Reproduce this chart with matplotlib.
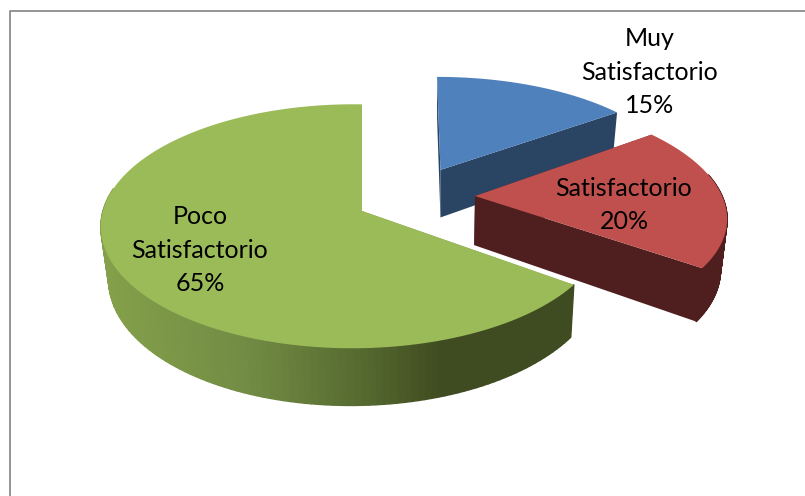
import numpy as np
import matplotlib
matplotlib.use("Agg")
import matplotlib.pyplot as plt
from matplotlib.collections import PolyCollection
from matplotlib.colors import LinearSegmentedColormap

categories = ["Muy\nSatisfactorio", "Satisfactorio", "Poco\nSatisfactorio"]
values = [15, 20, 65]
top_colors = ["#4f81bd", "#c0504d", "#9bbb59"]
side_colors = ["#2a4464", "#4f1f1f", "#3f4b20"]
sliver_colors = ["#2a4464", "#4f1f1f", "#7f9a48"]
label_xy = [(650, 72), (624, 205), (200, 250)]

# per-slice view geometry (exploded 3-D look)
apex_uv = [(0.31, 0.36), (0.446, 0.127), (0.0, 0.0)]
radius = [0.97, 0.975, 1.0]
width = [258, 258, 250]
skew = [0, 0, 0.035]
shear = [7, 0, 0]
persp = [1 / 7, 1 / 7, 0.125]

OX, OY = 362, 211
B = 120
DEPTH = 50
VX, SHRINK = 440, 0.023


def project(i, u, v, z=0.0):
    d = 1 + persp[i] * v + skew[i] * u
    x = OX + (width[i] * u + shear[i] * v) / d
    return VX + (x - VX) * (1 - SHRINK * z), OY - B * v / d + z * DEPTH / d


fig = plt.figure(figsize=(8.05, 4.96), dpi=100)
ax = fig.add_axes([0, 0, 1, 1])
ax.set_xlim(0, 805)
ax.set_ylim(496, 0)
ax.axis("off")

# chart frame
ax.plot([10, 10, 805], [496, 11, 11], color="#8c8c8c", lw=1.3, zorder=1)

green_cmap = LinearSegmentedColormap.from_list(
    "g", [(0, "#84a04a"), (0.3, "#728c44"), (0.55, "#566a30"),
          (0.72, "#3f4b20"), (1, "#3f4b20")])

angles = np.concatenate([[0], np.cumsum(values)]) * 3.6

for i in range(len(values)):
    start, end = angles[i], angles[i + 1]
    cu, cv = apex_uv[i]
    t = np.radians(np.linspace(start, end, 160))
    us, vs = cu + radius[i] * np.sin(t), cv + radius[i] * np.cos(t)
    z = 10 + i

    # flat cut faces, apex to each end of the arc
    for k, color in ((0, sliver_colors[i]), (-1, side_colors[i])):
        if i == 2 and k == -1:
            continue
        eu, ev = np.array([cu, us[k]]), np.array([cv, vs[k]])
        px, py = project(i, eu, ev)
        qx, qy = project(i, eu, ev, 1)
        ax.fill(np.r_[px, qx[::-1]], np.r_[py, qy[::-1]], color=color, lw=0, zorder=z)

    # curved outer wall: only the part that faces the viewer
    keep = np.cos(t) < 0.2
    if keep.sum() > 1:
        wu, wv = us[keep], vs[keep]
        px, py = project(i, wu, wv)
        qx, qy = project(i, wu, wv, 1)
        if i == 2:
            allx, _ = project(i, us, vs)
            xs = (px[:-1] + px[1:]) / 2
            cols = green_cmap((xs - allx.min()) / (allx.max() - allx.min()))
        else:
            cols = [side_colors[i]] * (len(wu) - 1)
        polys = [np.array([[px[j], py[j]], [px[j + 1], py[j + 1]],
                           [qx[j + 1], qy[j + 1]], [qx[j], qy[j]]])
                 for j in range(len(wu) - 1)]
        ax.add_collection(PolyCollection(polys, facecolors=cols, edgecolors=cols,
                                         linewidths=1.0, zorder=z))

    tx, ty = project(i, np.r_[cu, us], np.r_[cv, vs])
    ax.fill(tx, ty, color=top_colors[i], lw=0, zorder=z + 0.5)

for name, v, (x, y) in zip(categories, values, label_xy):
    ax.text(x, y, f"{name}\n{v}%", ha="center", va="center", fontsize=18,
            family="Lato", color="#000000", linespacing=1.53, zorder=30)

fig.savefig("out.png", dpi=100)
